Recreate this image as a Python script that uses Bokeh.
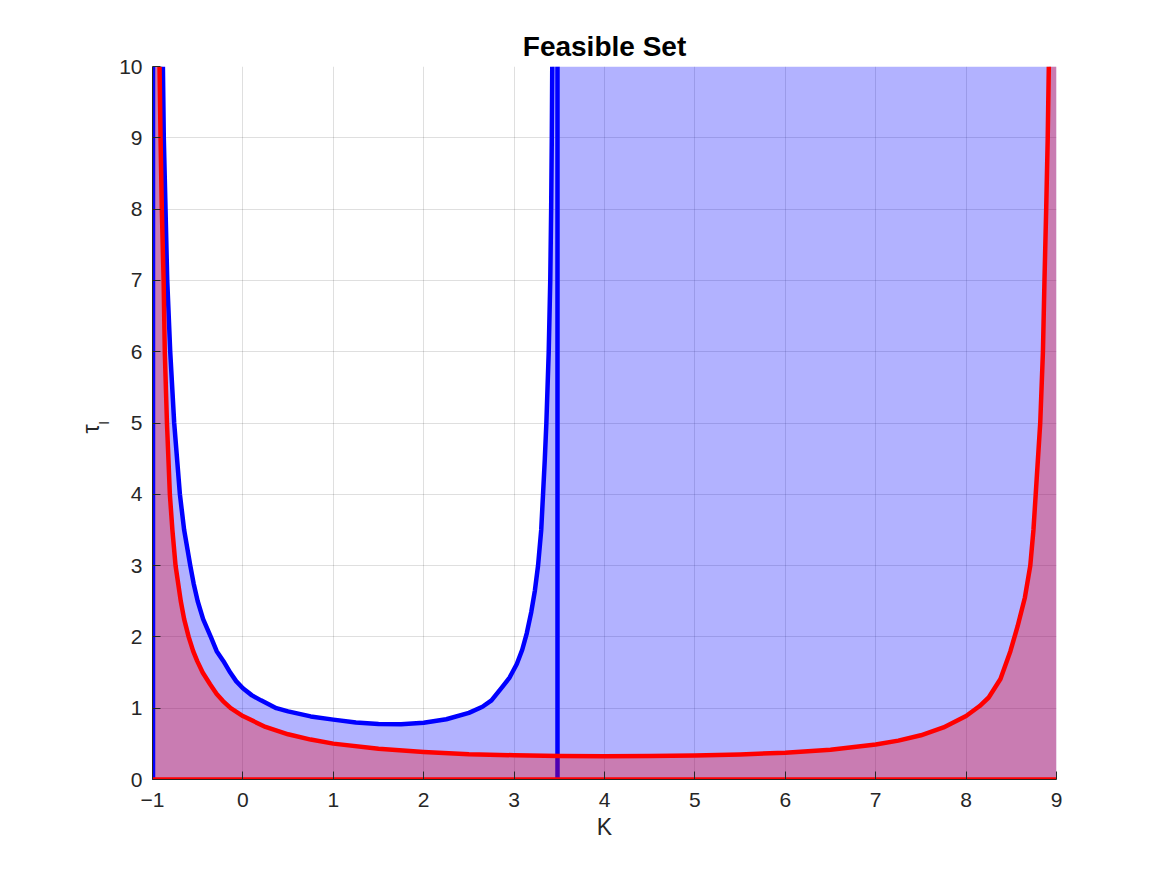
from bokeh.plotting import figure
from bokeh.models import Range1d, FixedTicker, Title
from bokeh.embed import file_html
from bokeh.resources import INLINE

# axis limits and ticks
k_min, k_max = -1, 9
tau_min, tau_max = 0, 10
k_ticks = list(range(-1, 10))
tau_ticks = list(range(0, 11))

# blue boundary curve (K, tau_I)
blue_k = [-0.885, -0.875, -0.856, -0.837, -0.804, -0.760, -0.697, -0.650, -0.582,
          -0.545, -0.500, -0.440, -0.355, -0.290, -0.215, -0.140, -0.075, 0.0,
          0.10, 0.20, 0.37, 0.50, 0.75, 1.0, 1.25, 1.5, 1.75,
          2.0, 2.25, 2.5, 2.65, 2.75, 2.87, 2.95, 3.03, 3.09, 3.14, 3.19, 3.23, 3.265,
          3.30, 3.32, 3.34, 3.357, 3.383, 3.40, 3.41, 3.417, 3.422]
blue_tau = [10, 9, 8, 7, 6, 5, 4, 3.5, 3.0,
            2.75, 2.5, 2.25, 2.0, 1.8, 1.66, 1.5, 1.38, 1.28,
            1.18, 1.11, 1.0, 0.955, 0.885, 0.84, 0.80, 0.78, 0.775,
            0.795, 0.845, 0.935, 1.02, 1.11, 1.30, 1.43, 1.62, 1.82, 2.05, 2.35, 2.65, 3.0,
            3.5, 4.0, 4.5, 5.0, 6.0, 7.0, 8.0, 9.0, 10.0]

# red boundary curve
red_k = [-0.922, -0.911, -0.897, -0.877, -0.864, -0.840, -0.808, -0.780, -0.745,
         -0.687, -0.650, -0.600, -0.550, -0.505, -0.445, -0.363, -0.290, -0.220,
         -0.135, 0.0, 0.25, 0.5, 0.75, 1.0, 1.5, 2.0, 2.5, 3.0,
         3.5, 4.0, 4.5, 5.0, 5.5, 6.0, 6.5, 7.0, 7.25, 7.5, 7.75, 8.0, 8.15, 8.25,
         8.38, 8.49, 8.57, 8.65, 8.71, 8.745, 8.77, 8.82, 8.85, 8.867, 8.886,
         8.903, 8.915]
red_tau = [10, 9, 8, 7, 6, 5, 4, 3.5, 3.0,
           2.5, 2.25, 2.0, 1.8, 1.66, 1.5, 1.336, 1.2, 1.1,
           1.0, 0.89, 0.737, 0.634, 0.56, 0.503, 0.432, 0.386, 0.354, 0.34,
           0.33, 0.325, 0.328, 0.337, 0.352, 0.375, 0.418, 0.49, 0.545, 0.62, 0.73, 0.89, 1.03, 1.15,
           1.41, 1.80, 2.15, 2.55, 3.0, 3.5, 4.0, 5.0, 6.0, 7.0, 8.0,
           9.0, 10.0]

# vertical blue boundary
blue_vline_k = 3.48

FONT = "Liberation Sans"
INK = "#262626"
LW = 4.5

p = figure(width=1160, height=868, output_backend="svg", toolbar_location=None,
           x_range=Range1d(k_min, k_max), y_range=Range1d(tau_min, tau_max),
           min_border_left=152, min_border_right=104,
           min_border_top=66, min_border_bottom=89)
p.outline_line_color = None
p.background_fill_color = "white"

p.title.text = "Feasible Set"
p.title.align = "center"
p.title.text_font = FONT
p.title.text_font_size = "28px"
p.title.text_font_style = "bold"
p.title.text_color = "black"
p.title.standoff = 9

for ax in (p.xaxis[0], p.yaxis[0]):
    ax.axis_line_color = INK
    ax.major_tick_line_color = INK
    ax.major_tick_in = 8
    ax.major_tick_out = 0
    ax.minor_tick_line_color = None
    ax.major_label_text_font = FONT
    ax.major_label_text_font_size = "21px"
    ax.major_label_text_color = INK
    ax.axis_label_text_font = FONT
    ax.axis_label_text_font_style = "normal"
    ax.axis_label_text_color = INK

p.xaxis.ticker = FixedTicker(ticks=k_ticks)
p.yaxis.ticker = FixedTicker(ticks=tau_ticks)
p.xaxis.axis_label = "K"
p.xaxis.axis_label_text_font_size = "23px"
p.xaxis.major_label_standoff = 13
p.yaxis.major_label_standoff = 10
p.xaxis.axis_label_standoff = 4

# y label tau_I: the subscript is the axis label, tau sits just outside it, a bit lower
p.yaxis.axis_label = "I"
p.yaxis.axis_label_text_font_size = "15px"
p.yaxis.axis_label_standoff = 4
tau_title = Title(text="τ", align="left", offset=346, vertical_align="bottom", standoff=-22,
                  text_font=FONT, text_font_size="23px", text_font_style="normal",
                  text_color=INK)
p.add_layout(tau_title, "left")

p.grid.grid_line_color = INK
p.grid.grid_line_alpha = 0.15
p.xgrid.ticker = FixedTicker(ticks=k_ticks)
p.ygrid.ticker = FixedTicker(ticks=tau_ticks)

# blue feasible region
p.patch([k_min, k_min] + blue_k + [k_max, k_max],
        [tau_min, tau_max] + blue_tau + [tau_max, tau_min],
        fill_color="blue", fill_alpha=0.3, line_color=None)
p.line(blue_k, blue_tau, color="blue", line_width=LW, line_join="round")
p.line([blue_vline_k, blue_vline_k], [tau_min, tau_max], color="blue", line_width=LW)

# red feasible region
p.patch([k_min, k_min] + red_k + [k_max, k_max],
        [tau_min, tau_max] + red_tau + [tau_max, tau_min],
        fill_color="red", fill_alpha=0.3, line_color=None)
p.line(red_k, red_tau, color="red", line_width=LW, line_join="round")
p.line([k_min, k_min], [tau_min, tau_max], color="blue", line_width=LW + 1)
p.line([k_min, k_max], [tau_min, tau_min], color="red", line_width=LW)

open("out.html", "w").write(file_html(p, INLINE))
